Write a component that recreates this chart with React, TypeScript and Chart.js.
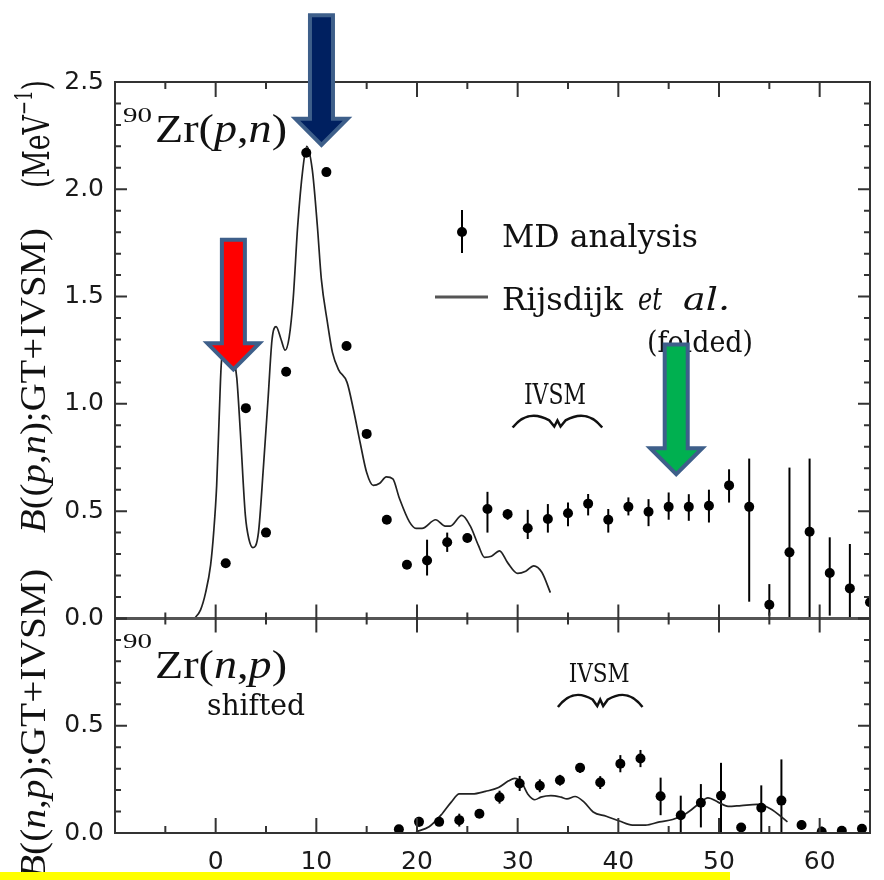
import React, { useEffect, useRef } from 'react';
import { Chart, registerables } from 'chart.js';

Chart.register(...registerables);

// ---------- axes ----------
const X_MIN = -10;
const X_MAX = 65;
const X_MAJOR_TICKS = [-10, 0, 10, 20, 30, 40, 50, 60];
const X_TICK_LABELS = ['', '0', '10', '20', '30', '40', '50', '60'];
const PN_Y_MAX = 2.5;
const NP_Y_MAX = 1.0;
const Y_TICK_STEP = 0.5;

// ---------- 90Zr(p,n): MD analysis ----------
const pnX = [1, 3, 5, 7, 9, 11, 13, 15, 17, 19, 21, 23, 25, 27, 29, 31, 33, 35, 37, 39, 41, 43, 45, 47, 49, 51, 53, 55, 57, 59, 61, 63, 65];
const pnY = [0.257, 0.98, 0.40, 1.15, 2.17, 2.08, 1.27, 0.86, 0.46, 0.25, 0.27, 0.355, 0.375, 0.51, 0.486, 0.42, 0.463, 0.49, 0.535, 0.46, 0.52, 0.497, 0.52, 0.52, 0.525, 0.62, 0.52, 0.064, 0.308, 0.404, 0.212, 0.14, 0.075];
const pnErrLo = [null, null, null, null, null, null, null, null, null, null, 0.20, 0.31, 0.355, 0.40, 0.46, 0.37, 0.40, 0.43, 0.48, 0.40, 0.48, 0.43, 0.46, 0.455, 0.447, 0.54, 0.078, 0.013, 0.0, 0.0, 0.013, 0.0, 0.0];
const pnErrHi = [null, null, null, null, null, null, null, null, null, null, 0.367, 0.40, 0.395, 0.59, 0.51, 0.506, 0.533, 0.54, 0.58, 0.51, 0.564, 0.556, 0.587, 0.579, 0.60, 0.695, 0.745, 0.16, 0.703, 0.745, 0.378, 0.347, 0.16];

// ---------- 90Zr(p,n): Rijsdijk et al. (folded) ----------
const rijsX = [-2.1, -1.5, -1.0, -0.5, -0.2, 0.1, 0.35, 0.55, 0.9, 1.3, 1.7, 2.1, 2.45, 2.95, 3.3, 3.7, 4.25, 4.75, 5.2, 5.6, 6.0, 6.5, 6.9, 7.3, 7.7, 8.15, 8.65, 9.05, 9.6, 10.1, 10.5, 11.1, 11.6, 12.2, 13.05, 13.7, 14.35, 15.0, 15.65, 16.3, 16.95, 17.6, 18.25, 19.25, 19.9, 20.5, 21.85, 22.8, 23.3, 24.45, 25.3, 26.1, 26.7, 27.4, 28.2, 29.0, 30.0, 30.8, 31.6, 32.4, 33.25];
const rijsY = [0.0, 0.04, 0.12, 0.25, 0.40, 0.62, 0.94, 1.18, 1.28, 1.30, 1.24, 1.12, 0.87, 0.48, 0.37, 0.33, 0.40, 0.71, 1.02, 1.30, 1.36, 1.30, 1.25, 1.31, 1.49, 1.83, 2.09, 2.20, 2.09, 1.83, 1.58, 1.38, 1.24, 1.16, 1.10, 0.97, 0.82, 0.68, 0.62, 0.63, 0.66, 0.65, 0.56, 0.45, 0.42, 0.42, 0.46, 0.43, 0.43, 0.48, 0.43, 0.34, 0.285, 0.29, 0.315, 0.26, 0.21, 0.22, 0.245, 0.215, 0.12];

// ---------- 90Zr(n,p) shifted ----------
const npX = [18.2, 20.2, 22.2, 24.2, 26.2, 28.2, 30.2, 32.2, 34.2, 36.2, 38.2, 40.2, 42.2, 44.2, 46.2, 48.2, 50.2, 52.2, 54.2, 56.2, 58.2, 60.2, 62.2, 64.2];
const npY = [0.017, 0.052, 0.052, 0.06, 0.09, 0.167, 0.231, 0.22, 0.246, 0.304, 0.235, 0.323, 0.347, 0.171, 0.083, 0.141, 0.174, 0.026, 0.118, 0.151, 0.037, 0.006, 0.01, 0.02];
const npErrLo = [null, 0.03, null, 0.03, null, 0.137, 0.196, 0.19, 0.221, 0.28, 0.205, 0.283, 0.307, 0.083, 0.0, 0.026, 0.0, null, 0.0, 0.0, 0.015, 0.0, null, null];
const npErrHi = [null, 0.075, null, 0.09, null, 0.197, 0.266, 0.25, 0.271, 0.325, 0.265, 0.363, 0.387, 0.258, 0.174, 0.228, 0.327, null, 0.222, 0.343, 0.06, 0.03, null, null];

const npCurveX = [19.9, 21.2, 22.5, 23.4, 24.2, 25.5, 26.8, 28.1, 29.1, 29.7, 30.4, 31.0, 31.7, 32.3, 33.3, 34.3, 34.9, 35.7, 36.6, 37.5, 38.8, 40.1, 41.4, 42.7, 44.1, 45.4, 46.7, 48.0, 48.9, 49.9, 50.9, 52.2, 53.8, 55.1, 56.8];
const npCurveY = [0.006, 0.029, 0.09, 0.144, 0.182, 0.182, 0.194, 0.212, 0.243, 0.255, 0.235, 0.182, 0.155, 0.167, 0.174, 0.167, 0.159, 0.17, 0.144, 0.098, 0.078, 0.056, 0.037, 0.037, 0.052, 0.063, 0.09, 0.136, 0.164, 0.144, 0.124, 0.128, 0.133, 0.113, 0.052];

// ---------- annotations (data coordinates) ----------
const arrows = [
  { x: 1.76, tipY: 1.147, topY: 1.774, fill: '#FF0000' },
  { x: 10.51, tipY: 2.193, topY: 2.82, fill: '#002060' },
  { x: 45.75, tipY: 0.658, topY: 1.286, fill: '#00B050' },
];

const SERIF = '"Liberation Serif", "Times New Roman", serif';
const SLAB = '"DejaVu Serif", serif';
const SANS = '"DejaVu Sans", sans-serif';

type Run = { t: string; font: string; dy?: number };

function drawRuns(ctx: CanvasRenderingContext2D, runs: Run[], x: number, y: number, targetW: number, align: 'left' | 'center' | 'right' = 'left') {
  let w = 0;
  for (const r of runs) {
    ctx.font = r.font;
    w += ctx.measureText(r.t).width;
  }
  const s = targetW / w;
  ctx.save();
  const off = align === 'center' ? targetW / 2 : align === 'right' ? targetW : 0;
  ctx.translate(x - off, y);
  ctx.scale(s, 1);
  ctx.textAlign = 'left';
  ctx.textBaseline = 'alphabetic';
  let cx = 0;
  for (const r of runs) {
    ctx.font = r.font;
    ctx.fillText(r.t, cx, r.dy || 0);
    cx += ctx.measureText(r.t).width;
  }
  ctx.restore();
}

function drawRotated(ctx: CanvasRenderingContext2D, runs: Run[], baseX: number, startY: number, len: number) {
  ctx.save();
  ctx.translate(baseX, startY);
  ctx.rotate(-Math.PI / 2);
  drawRuns(ctx, runs, 0, 0, len);
  ctx.restore();
}

function drawBrace(ctx: CanvasRenderingContext2D, x0: number, x1: number, yb: number, yt: number) {
  const w = x1 - x0;
  const xc = (x0 + x1) / 2;
  ctx.beginPath();
  ctx.moveTo(x0, yb);
  ctx.bezierCurveTo(x0 + 0.12 * w, yt, xc - 0.25 * w, yt - 2, xc - 0.09 * w, yt + 6);
  ctx.lineTo(xc - 0.035 * w, yb - 1);
  ctx.lineTo(xc, yt + 6);
  ctx.lineTo(xc + 0.035 * w, yb - 1);
  ctx.lineTo(xc + 0.09 * w, yt + 6);
  ctx.bezierCurveTo(xc + 0.25 * w, yt - 2, x1 - 0.12 * w, yt, x1, yb);
  ctx.stroke();
}

function drawArrow(ctx: CanvasRenderingContext2D, x: number, tipY: number, topY: number, fill: string) {
  const sh = 11.5;
  const hh = 26;
  const headH = 26;
  const tip = tipY - 3;
  const top = topY + 2;
  const base = tip - headH;
  ctx.beginPath();
  ctx.moveTo(x - sh, top);
  ctx.lineTo(x + sh, top);
  ctx.lineTo(x + sh, base);
  ctx.lineTo(x + hh, base);
  ctx.lineTo(x, tip);
  ctx.lineTo(x - hh, base);
  ctx.lineTo(x - sh, base);
  ctx.closePath();
  ctx.fillStyle = fill;
  ctx.fill();
  ctx.lineWidth = 4;
  ctx.lineJoin = 'miter';
  ctx.strokeStyle = '#3E5F8A';
  ctx.stroke();
}

const bgPlugin = {
  id: 'bg',
  beforeDraw(chart: any) {
    const ctx = chart.ctx;
    ctx.save();
    ctx.fillStyle = '#ffffff';
    ctx.fillRect(0, 0, chart.width, chart.height);
    ctx.restore();
  },
};

const errorBarPlugin = {
  id: 'errbars',
  beforeDatasetsDraw(chart: any) {
    const { ctx, chartArea: ca, scales } = chart;
    ctx.save();
    ctx.beginPath();
    ctx.rect(ca.left, ca.top, ca.right - ca.left, ca.bottom - ca.top);
    ctx.clip();
    ctx.strokeStyle = '#000';
    ctx.lineWidth = 2;
    const sets: [number[], (number | null)[], (number | null)[], any][] = [
      [pnX, pnErrLo, pnErrHi, scales.y],
      [npX, npErrLo, npErrHi, scales.y2],
    ];
    for (const [xs, lo, hi, ys] of sets) {
      xs.forEach((xv, i) => {
        const l = lo[i];
        const h = hi[i];
        if (l === null || h === null) return;
        const px = scales.x.getPixelForValue(xv);
        ctx.beginPath();
        ctx.moveTo(px, ys.getPixelForValue(l));
        ctx.lineTo(px, ys.getPixelForValue(h));
        ctx.stroke();
      });
    }
    ctx.restore();
  },
};

const decorPlugin = {
  id: 'decor',
  afterDraw(chart: any) {
    const { ctx, chartArea: ca, scales } = chart;
    const sx = scales.x;
    const yT = scales.y;
    const yB = scales.y2;
    const yMid = yT.getPixelForValue(0);
    ctx.save();

    // ---- frame ----
    ctx.strokeStyle = '#333';
    ctx.lineWidth = 2;
    ctx.beginPath();
    ctx.moveTo(ca.left, ca.top);
    ctx.lineTo(ca.right, ca.top);
    ctx.lineTo(ca.right, ca.bottom);
    ctx.lineTo(ca.left, ca.bottom);
    ctx.closePath();
    ctx.stroke();
    ctx.strokeStyle = '#555';
    ctx.lineWidth = 3;
    ctx.beginPath();
    ctx.moveTo(ca.left, yMid);
    ctx.lineTo(ca.right, yMid);
    ctx.stroke();

    // ---- x ticks ----
    ctx.strokeStyle = '#333';
    ctx.lineWidth = 2;
    const xTick = (v: number, major: boolean) => {
      const px = sx.getPixelForValue(v);
      const L = major ? 15 : 7;
      const M = major ? 14 : 6;
      ctx.beginPath();
      ctx.moveTo(px, ca.top);
      ctx.lineTo(px, ca.top + L);
      ctx.moveTo(px, yMid - M);
      ctx.lineTo(px, yMid + M);
      ctx.moveTo(px, ca.bottom);
      ctx.lineTo(px, ca.bottom - L);
      ctx.stroke();
    };
    X_MAJOR_TICKS.forEach((v) => xTick(v, true));
    X_MAJOR_TICKS.forEach((v) => { if (v + 5 < X_MAX) xTick(v + 5, false); });

    // ---- y ticks ----
    const yTicks = (scale: any, max: number) => {
      for (let k = 0; k <= Math.round(max * 10); k++) {
        const v = k / 10;
        const py = scale.getPixelForValue(v);
        if (py < ca.top + 1 || py > ca.bottom - 1) continue;
        const major = k % 5 === 0;
        const L = major ? 12 : 6;
        ctx.beginPath();
        ctx.moveTo(ca.left, py);
        ctx.lineTo(ca.left + L, py);
        ctx.moveTo(ca.right, py);
        ctx.lineTo(ca.right - L, py);
        ctx.stroke();
      }
    };
    yTicks(yT, PN_Y_MAX);
    yTicks(yB, NP_Y_MAX);

    ctx.fillStyle = '#111';

    // ---- panel labels ----
    drawRuns(ctx, [{ t: '90', font: `21px ${SERIF}` }], ca.left + 8, ca.top + 40, 29);
    drawRuns(ctx, [
      { t: 'Zr(', font: `40px ${SERIF}` },
      { t: 'p', font: `italic 40px ${SERIF}` },
      { t: ',', font: `40px ${SERIF}` },
      { t: 'n', font: `italic 40px ${SERIF}` },
      { t: ')', font: `40px ${SERIF}` },
    ], ca.left + 40, ca.top + 60, 132);

    drawRuns(ctx, [{ t: '90', font: `21px ${SERIF}` }], ca.left + 8, yMid + 30, 29);
    drawRuns(ctx, [
      { t: 'Zr(', font: `40px ${SERIF}` },
      { t: 'n', font: `italic 40px ${SERIF}` },
      { t: ',', font: `40px ${SERIF}` },
      { t: 'p', font: `italic 40px ${SERIF}` },
      { t: ')', font: `40px ${SERIF}` },
    ], ca.left + 40, yMid + 60, 132);
    drawRuns(ctx, [{ t: 'shifted', font: `30px ${SLAB}` }], ca.left + 92, yMid + 97, 98);

    // ---- legend ----
    ctx.strokeStyle = '#000';
    ctx.lineWidth = 2;
    ctx.beginPath();
    ctx.moveTo(462, 210);
    ctx.lineTo(462, 253);
    ctx.stroke();
    ctx.beginPath();
    ctx.arc(462, 232, 5, 0, Math.PI * 2);
    ctx.fillStyle = '#000';
    ctx.fill();
    ctx.strokeStyle = '#555';
    ctx.lineWidth = 3;
    ctx.beginPath();
    ctx.moveTo(435, 297);
    ctx.lineTo(488, 297);
    ctx.stroke();
    ctx.fillStyle = '#111';
    drawRuns(ctx, [{ t: 'MD analysis', font: `32px ${SLAB}` }], 502, 247, 196);
    drawRuns(ctx, [{ t: 'Rijsdijk', font: `32px ${SLAB}` }], 502, 310, 121);
    drawRuns(ctx, [{ t: 'et', font: `italic 32px ${SLAB}` }], 638, 310, 24);
    drawRuns(ctx, [{ t: 'al.', font: `italic 32px ${SLAB}` }], 683, 310, 47);
    drawRuns(ctx, [{ t: '(folded)', font: `30px ${SLAB}` }], 647, 352, 106);

    // ---- IVSM ----
    ctx.strokeStyle = '#111';
    ctx.lineWidth = 2.5;
    drawRuns(ctx, [{ t: 'IVSM', font: `27px ${SLAB}` }], sx.getPixelForValue(33.7), yT.getPixelForValue(1.0), 62, 'center');
    drawBrace(ctx, sx.getPixelForValue(29.5), sx.getPixelForValue(38.4), yT.getPixelForValue(0.89), yT.getPixelForValue(0.951));
    drawRuns(ctx, [{ t: 'IVSM', font: `26px ${SLAB}` }], sx.getPixelForValue(38.1), yB.getPixelForValue(0.705), 61, 'center');
    drawBrace(ctx, sx.getPixelForValue(34.0), sx.getPixelForValue(42.4), yB.getPixelForValue(0.587), yB.getPixelForValue(0.65));

    // ---- axis titles ----
    drawRotated(ctx, [
      { t: 'B', font: `italic 35px ${SERIF}` },
      { t: '((', font: `35px ${SERIF}` },
      { t: 'p', font: `italic 35px ${SERIF}` },
      { t: ',', font: `35px ${SERIF}` },
      { t: 'n', font: `italic 35px ${SERIF}` },
      { t: ');GT+IVSM)', font: `35px ${SERIF}` },
    ], 45, 533, 305);
    drawRotated(ctx, [
      { t: '(MeV', font: `38px ${SLAB}` },
      { t: '\u22121', font: `24px ${SLAB}`, dy: -17 },
      { t: ')', font: `38px ${SLAB}` },
    ], 49, 188, 108);
    drawRotated(ctx, [
      { t: 'B', font: `italic 35px ${SERIF}` },
      { t: '((', font: `35px ${SERIF}` },
      { t: 'n', font: `italic 35px ${SERIF}` },
      { t: ',', font: `35px ${SERIF}` },
      { t: 'p', font: `italic 35px ${SERIF}` },
      { t: ');GT+IVSM)', font: `35px ${SERIF}` },
    ], 45, 879, 310);

    // ---- arrows ----
    for (const a of arrows) {
      drawArrow(ctx, sx.getPixelForValue(a.x), yT.getPixelForValue(a.tipY), yT.getPixelForValue(a.topY), a.fill);
    }

    // ---- yellow strip ----
    ctx.fillStyle = '#FFFF00';
    ctx.fillRect(0, 872, 730, 8);
    ctx.restore();
  },
};

export default function App() {
  const canvasRef = useRef<HTMLCanvasElement | null>(null);

  useEffect(() => {
    if (!canvasRef.current) return;
    const tickFont = { family: SANS, size: 25 };
    const chart = new Chart(canvasRef.current, {
      type: 'scatter',
      data: {
        datasets: [
          {
            label: 'MD analysis',
            data: pnX.map((x, i) => ({ x, y: pnY[i] })),
            yAxisID: 'y',
            pointRadius: 5,
            pointBackgroundColor: '#000',
            pointBorderWidth: 0,
            showLine: false,
          },
          {
            label: 'MD analysis (n,p)',
            data: npX.map((x, i) => ({ x, y: npY[i] })),
            yAxisID: 'y2',
            pointRadius: 5,
            pointBackgroundColor: '#000',
            pointBorderWidth: 0,
            showLine: false,
          },
          {
            label: 'Rijsdijk et al. (folded)',
            data: rijsX.map((x, i) => ({ x, y: rijsY[i] })),
            yAxisID: 'y',
            showLine: true,
            pointRadius: 0,
            borderColor: '#222',
            borderWidth: 1.7,
            cubicInterpolationMode: 'monotone',
          },
          {
            label: 'Rijsdijk (n,p)',
            data: npCurveX.map((x, i) => ({ x, y: npCurveY[i] })),
            yAxisID: 'y2',
            showLine: true,
            pointRadius: 0,
            borderColor: '#222',
            borderWidth: 1.7,
            cubicInterpolationMode: 'monotone',
          },
        ],
      },
      options: {
        responsive: false,
        animation: false,
        events: [],
        layout: { padding: { top: 82, right: 4, left: 0, bottom: 0 } },
        plugins: { legend: { display: false }, tooltip: { enabled: false } },
        scales: {
          x: {
            type: 'linear',
            min: X_MIN,
            max: X_MAX,
            grid: { display: false, drawTicks: false },
            border: { display: false },
            ticks: {
              stepSize: 10,
              padding: 14,
              color: '#1a1a1a',
              font: tickFont,
              maxRotation: 0,
              autoSkip: false,
              callback: (v: any) => {
                const idx = X_MAJOR_TICKS.indexOf(Number(v));
                return idx >= 0 ? X_TICK_LABELS[idx] : '';
              },
            },
            afterFit: (s: any) => { s.height = 47; },
          },
          y: {
            type: 'linear',
            position: 'left',
            stack: 'panels',
            stackWeight: PN_Y_MAX,
            weight: 1,
            min: 0,
            max: PN_Y_MAX,
            grid: { display: false, drawTicks: false },
            border: { display: false },
            ticks: {
              stepSize: Y_TICK_STEP,
              padding: 11,
              color: '#1a1a1a',
              font: tickFont,
              callback: (v: any) => Number(v).toFixed(1),
            },
            afterFit: (s: any) => { s.width = 115; },
          },
          y2: {
            type: 'linear',
            position: 'left',
            stack: 'panels',
            stackWeight: NP_Y_MAX,
            weight: 0,
            min: 0,
            max: NP_Y_MAX,
            grid: { display: false, drawTicks: false },
            border: { display: false },
            ticks: {
              stepSize: Y_TICK_STEP,
              padding: 11,
              color: '#1a1a1a',
              font: tickFont,
              callback: (v: any) => (Number(v) > 0.9 ? '' : Number(v).toFixed(1)),
            },
            afterFit: (s: any) => { s.width = 115; },
          },
        },
      } as any,
      plugins: [bgPlugin, errorBarPlugin, decorPlugin],
    });
    return () => chart.destroy();
  }, []);

  return (
    <div style={{ position: 'absolute', left: 0, top: 0, width: 884, height: 880, background: '#fff' }}>
      <canvas ref={canvasRef} width={884} height={880} style={{ display: 'block' }} />
    </div>
  );
}
